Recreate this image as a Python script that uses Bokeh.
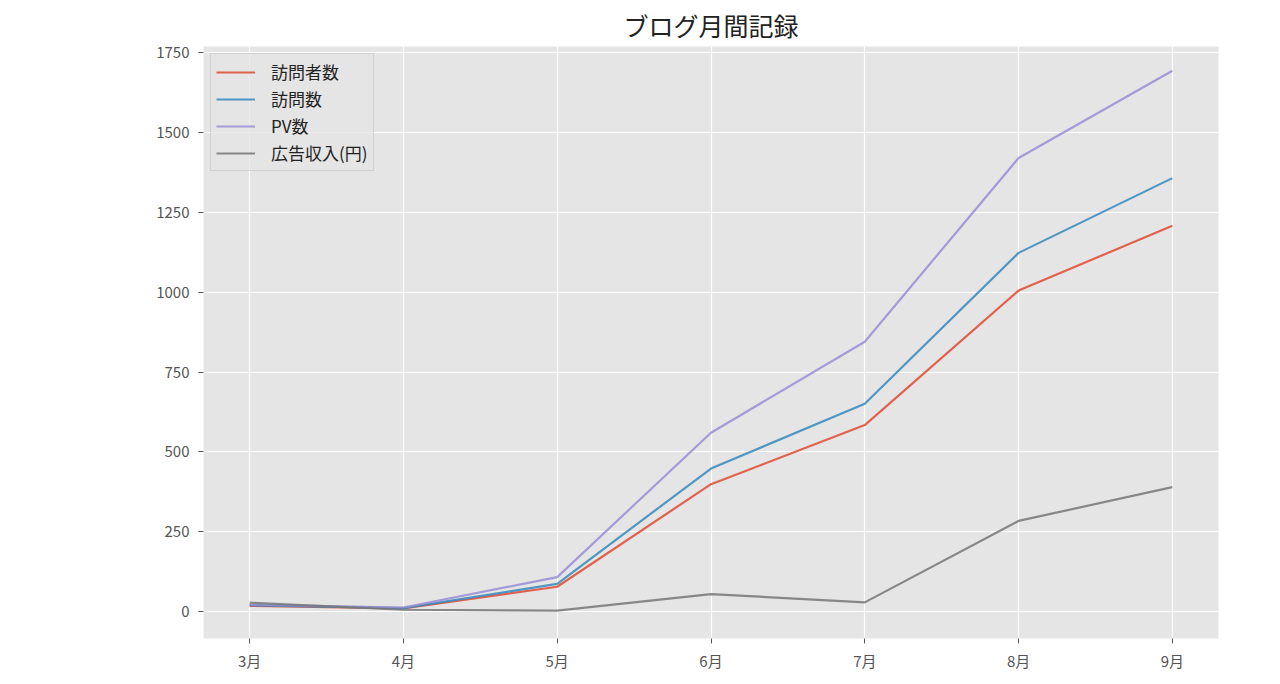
from bokeh.plotting import figure
from bokeh.models import Legend, LegendItem, FixedTicker, Range1d
from bokeh.embed import file_html
from bokeh.resources import INLINE

months = ["3月", "4月", "5月", "6月", "7月", "8月", "9月"]
visitors = [18, 10, 78, 399, 584, 1005, 1208]
visits = [20, 11, 87, 448, 651, 1123, 1357]
pv = [22, 13, 108, 560, 845, 1420, 1693]
ad_income = [28, 6, 3, 55, 29, 284, 390]

names = ["訪問者数", "訪問数", "PV数", "広告収入(円)"]
series = [visitors, visits, pv, ad_income]
colors = ["#E24A33", "#348ABD", "#988ED5", "#777777"]

jp = "Noto Sans CJK JP"
x = list(range(len(months)))

p = figure(width=1264, height=673, output_backend="svg", toolbar_location=None,
           x_range=Range1d(-0.3, 6.3), y_range=Range1d(-84, 1769),
           min_border_left=203, min_border_right=46, min_border_top=45, min_border_bottom=30)
p.title.text = "ブログ月間記録"
p.title.align = "center"
p.title.text_font = jp
p.title.text_font_size = "25px"
p.title.text_font_style = "normal"
p.title.text_color = "#222222"
p.title.standoff = 8

p.background_fill_color = "#E5E5E5"
p.border_fill_color = "white"
p.outline_line_color = None
p.grid.grid_line_color = "white"
p.grid.grid_line_width = 1.2

p.xaxis.ticker = FixedTicker(ticks=x)
p.xaxis.major_label_overrides = {i: m for i, m in enumerate(months)}
p.yaxis.ticker = FixedTicker(ticks=[0, 250, 500, 750, 1000, 1250, 1500, 1750])
for ax in (p.xaxis, p.yaxis):
    ax.axis_line_color = None
    ax.minor_tick_line_color = None
    ax.major_tick_line_color = "#555555"
    ax.major_tick_out = 5
    ax.major_tick_in = 0
    ax.major_label_text_color = "#555555"
    ax.major_label_text_font = jp
    ax.major_label_text_font_size = "15px"
p.xaxis.major_label_standoff = 6
p.yaxis.major_label_standoff = 9

items = []
for name, vals, c in zip(names, series, colors):
    r = p.line(x, vals, line_color=c, line_width=2.2, line_alpha=0.85)
    items.append(LegendItem(label=name, renderers=[r]))

legend = Legend(items=items, location="top_left")
legend.margin = 7
legend.padding = 5
legend.spacing = 2
legend.label_height = 24
legend.glyph_height = 24
legend.glyph_width = 39
legend.label_standoff = 16
legend.label_text_font = jp
legend.label_text_font_size = "17px"
legend.label_text_color = "#222222"
legend.background_fill_color = "#E5E5E5"
legend.background_fill_alpha = 0.8
legend.border_line_color = "#CCCCCC"
legend.border_line_alpha = 0.8
p.add_layout(legend)

open("out.html", "w").write(file_html(p, INLINE))
